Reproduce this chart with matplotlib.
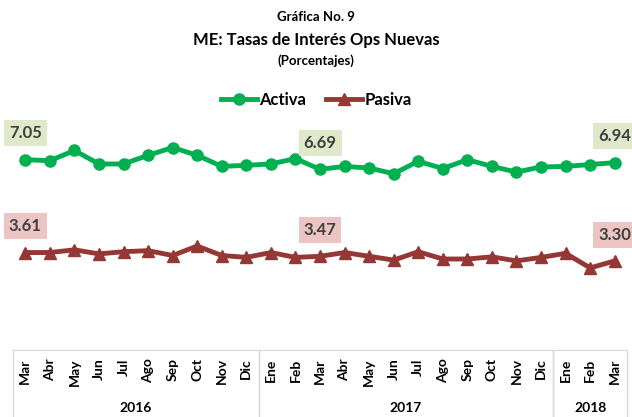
import matplotlib
matplotlib.use("Agg")
import matplotlib.pyplot as plt
from matplotlib.lines import Line2D

plt.rcParams['font.family'] = ['Lato', 'DejaVu Sans']
plt.rcParams['font.weight'] = 'bold'

months = ["Mar", "Abr", "May", "Jun", "Jul", "Ago", "Sep", "Oct", "Nov", "Dic",
          "Ene", "Feb", "Mar", "Abr", "May", "Jun", "Jul", "Ago", "Sep", "Oct", "Nov", "Dic",
          "Ene", "Feb", "Mar"]
years = ["2016", "2017", "2018"]
year_spans = [(0, 9), (10, 21), (22, 24)]

activa = [7.05, 7.01, 7.39, 6.89, 6.89, 7.21, 7.50, 7.21, 6.80, 6.84, 6.89, 7.09,
          6.69, 6.80, 6.74, 6.53, 6.99, 6.72, 7.05, 6.80, 6.59, 6.78, 6.80, 6.87, 6.94]
pasiva = [3.61, 3.61, 3.71, 3.56, 3.64, 3.68, 3.50, 3.85, 3.50, 3.43, 3.61, 3.43,
          3.47, 3.61, 3.47, 3.33, 3.64, 3.37, 3.37, 3.45, 3.30, 3.43, 3.58, 3.04, 3.30]
label_idx = [0, 12, 24]

green = "#00B050"
red = "#953735"

W, H = 632, 417
fig = plt.figure(figsize=(W / 100, H / 100), dpi=100)
ax = fig.add_axes([13 / W, 1 - 350 / H, 614 / W, 270 / H])

x = list(range(len(months)))
ax.plot(x, activa, color=green, lw=3.5, marker='o', ms=8, label='Activa', solid_joinstyle='round')
ax.plot(x, pasiva, color=red, lw=3.5, marker='^', ms=9, label='Pasiva', solid_joinstyle='round')

for i in label_idx:
    ax.annotate("%.2f" % activa[i], (i, activa[i]), xytext=(0, 19), textcoords='offset points',
                ha='center', va='center', fontsize=12, color='#404040', fontweight='bold',
                bbox=dict(boxstyle='square,pad=0.3', fc='#dfe8c9', ec='none'))
    ax.annotate("%.2f" % pasiva[i], (i, pasiva[i]), xytext=(0, 19), textcoords='offset points',
                ha='center', va='center', fontsize=12, color='#404040', fontweight='bold',
                bbox=dict(boxstyle='square,pad=0.3', fc='#ecc4c3', ec='none'))

ax.set_xlim(-0.5, len(months) - 0.5)
ax.set_ylim(0, 10)
ax.set_yticks([])
for s in ['top', 'left', 'right']:
    ax.spines[s].set_visible(False)
ax.spines['bottom'].set_color('#d9d9d9')
ax.set_xticks(x)
ax.set_xticklabels(months, rotation=90, fontsize=10, fontweight='bold')
ax.tick_params(axis='x', length=0, pad=6)

# multi-level category axis: group separators and year labels
trans = ax.get_xaxis_transform()
ybot = -(H - 350) / 270
for a, b in year_spans:
    for xx in (a - 0.5, b + 0.5):
        ax.add_line(Line2D([xx, xx], [0, ybot], transform=trans, color='#d9d9d9', lw=1, clip_on=False))
for yr, (a, b) in zip(years, year_spans):
    ax.text((a + b) / 2, -(408 - 350) / 270, yr, transform=trans, ha='center', va='center',
            fontsize=10, fontweight='bold')

ax.legend(loc='center', bbox_to_anchor=(0.5, 1 - 100 / H), bbox_transform=fig.transFigure,
          ncol=2, frameon=False, fontsize=12, handlelength=2.2, handletextpad=0.1,
          columnspacing=1.2, prop={'weight': 'bold', 'size': 12})

fig.text(0.5, 1 - 17 / H, "Gráfica No. 9", ha='center', va='center', fontsize=9.5, fontweight='bold')
fig.text(0.5, 1 - 40 / H, "ME: Tasas de Interés Ops Nuevas", ha='center', va='center', fontsize=12, fontweight='bold')
fig.text(0.5, 1 - 61 / H, "(Porcentajes)", ha='center', va='center', fontsize=9.5, fontweight='bold')

fig.savefig("out.png", dpi=100)
